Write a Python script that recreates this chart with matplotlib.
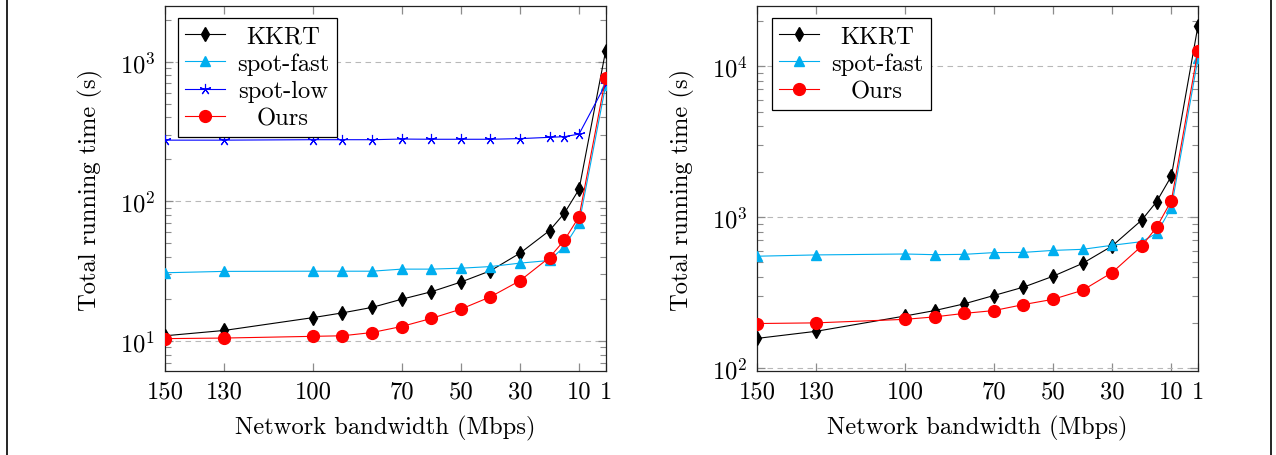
import matplotlib
matplotlib.use("Agg")
import matplotlib.pyplot as plt
from matplotlib.lines import Line2D
from matplotlib.ticker import LogLocator, NullFormatter, NullLocator

plt.rcParams['font.family'] = 'serif'
plt.rcParams['font.serif'] = ['cmr10', 'DejaVu Serif']
plt.rcParams['mathtext.fontset'] = 'cm'
plt.rcParams['axes.formatter.use_mathtext'] = True
plt.rcParams['axes.unicode_minus'] = False

# ---------------- data ----------------
bandwidth = [150, 130, 100, 90, 80, 70, 60, 50, 40, 30, 20, 15, 10, 1]
xtick_vals = [150, 130, 100, 70, 50, 30, 10, 1]

# left panel
kkrt_1 = [10.9, 11.9, 14.7, 15.9, 17.4, 19.9, 22.5, 26.4, 31.8, 42.5, 61.7, 82, 122, 1200]
spotfast_1 = [30.8, 31.5, 31.6, 31.6, 31.6, 32.7, 32.7, 33.2, 34.1, 36.1, 37.7, 47.4, 69.6, 678]
spotlow_1 = [274, 274, 276, 276, 276, 279, 278, 278, 278, 281, 287, 290, 303, 692]
ours_1 = [10.4, 10.5, 10.8, 10.9, 11.5, 12.7, 14.5, 16.9, 20.7, 27.0, 39.6, 52.6, 77.6, 768]

# right panel
kkrt_2 = [157, 175, 221, 240, 266, 302, 343, 405, 493, 643, 955, 1263, 1866, 18540]
spotfast_2 = [550, 561, 569, 563, 566, 581, 583, 601, 611, 650, 687, 780, 1153, 11230]
ours_2 = [197, 199, 210, 218, 230, 240, 263, 285, 327, 429, 643, 855, 1282, 12680]

CYAN = '#00AEEF'
FS = 17.7

fig = plt.figure(figsize=(12.76, 4.56), dpi=100)
W, H = 1276, 456

def make_ax(left_px, right_px, ylim):
    ax = fig.add_axes([left_px / W, 1 - 372 / H, (right_px - left_px) / W, (372 - 7) / H])
    ax.set_yscale('log')
    ax.set_xlim(150, 1)
    ax.set_ylim(*ylim)
    ax.set_xticks(xtick_vals)
    ax.set_xticklabels([str(v) for v in xtick_vals])
    ax.xaxis.set_minor_locator(NullLocator())
    ax.yaxis.set_major_locator(LogLocator(base=10, numticks=10))
    ax.yaxis.set_minor_locator(LogLocator(base=10, subs=range(2, 10), numticks=20))
    ax.yaxis.set_minor_formatter(NullFormatter())
    ax.tick_params(axis='both', which='both', direction='in', top=True, right=True,
                   color='#8c8c8c', labelsize=FS, pad=7)
    ax.tick_params(which='major', length=6, width=0.9)
    ax.tick_params(which='minor', length=4.5, width=0.8)
    ax.grid(True, which='major', axis='y', linestyle=(0, (5, 4)), color='#b8b8b8', linewidth=0.8)
    for s in ax.spines.values():
        s.set_linewidth(0.9)
        s.set_color('#222222')
    ax.set_xlabel('Network bandwidth (Mbps)', fontsize=FS, labelpad=9)
    ax.set_ylabel('Total running time (s)', fontsize=FS, labelpad=12)
    ax.set_axisbelow(True)
    return ax

lw = 0.8
ax1 = make_ax(165, 605.7, (6.1, 2500))
ax1.plot(bandwidth, kkrt_1, color='black', marker='d', markersize=7, lw=lw, label='KKRT', zorder=3)
ax1.plot(bandwidth, spotfast_1, color=CYAN, marker='^', markersize=7.5, lw=lw, label='spot-fast', zorder=3)
ax1.plot(bandwidth, spotlow_1, color='blue', marker=(5, 2, 0), markersize=8, markeredgewidth=0.8,
         lw=lw, label='spot-low', zorder=3)
ax1.plot(bandwidth, ours_1, color='red', marker='o', markersize=8.5, lw=lw, label='Ours', zorder=4)

ax2 = make_ax(757, 1198, (95.5, 25000))
ax2.plot(bandwidth, kkrt_2, color='black', marker='d', markersize=7, lw=lw, label='KKRT', zorder=3)
ax2.plot(bandwidth, spotfast_2, color=CYAN, marker='^', markersize=7.5, lw=lw, label='spot-fast', zorder=3)
ax2.plot(bandwidth, ours_2, color='red', marker='o', markersize=8.5, lw=lw, label='Ours', zorder=4)

def make_legend(ax, dx_px, dy_px):
    bb = ax.get_position()
    axw = bb.width * W
    axh = bb.height * H
    leg = ax.legend(loc='upper left', bbox_to_anchor=(dx_px / axw, 1 - dy_px / axh),
                    borderaxespad=0, fancybox=False, framealpha=1, edgecolor='black',
                    fontsize=FS, handlelength=1.6, handletextpad=0.5, labelspacing=0.2,
                    borderpad=0.3)
    leg.get_frame().set_linewidth(0.9)
    leg.set_zorder(10)
    return leg

leg1 = make_legend(ax1, 13, 12)
leg2 = make_legend(ax2, 15, 12)

# center legend texts in their column
fig.canvas.draw()
r = fig.canvas.get_renderer()
for leg in (leg1, leg2):
    texts = leg.get_texts()
    widths = [t.get_window_extent(r).width for t in texts]
    mw = max(widths)
    for t, w in zip(texts, widths):
        t.set_position(((mw - w) / 2, 0))

# outer vertical frame lines
fig.add_artist(Line2D([6.5 / W, 6.5 / W], [0, 1], color='black', lw=1.2, transform=fig.transFigure))
fig.add_artist(Line2D([1271 / W, 1271 / W], [0, 1], color='black', lw=1.2, transform=fig.transFigure))

fig.savefig('out.png', dpi=100)
